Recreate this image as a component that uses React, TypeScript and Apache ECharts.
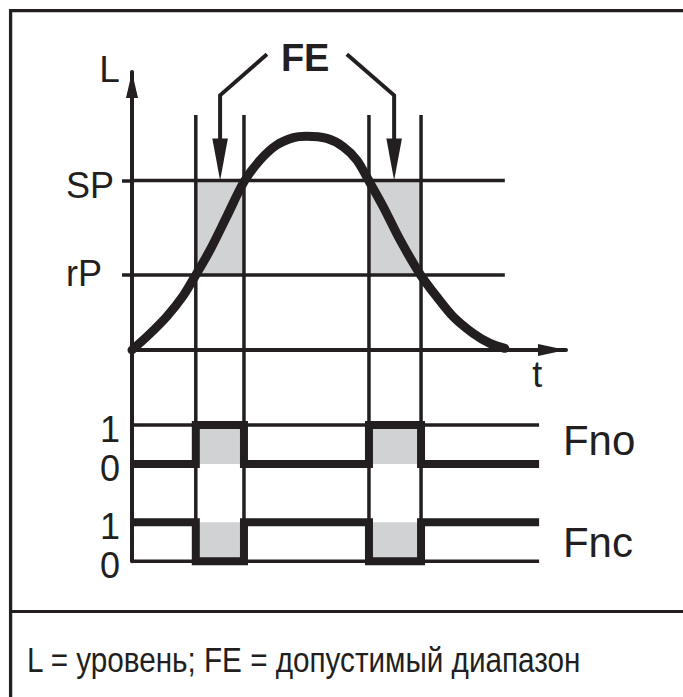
import { useEffect, useRef } from "react";
import * as echarts from "echarts";

const INK = "#231f20";
const FILL = "#d1d2d4";
const FONT = '"Liberation Sans", Arial, Helvetica, sans-serif';

// ---- data (time axis 0..100, level axis units) ----
const SP = 61;
const RP = 27;
const switchTimes = [14.7, 25.8, 54.6, 66.6]; // t1..t4
const levelLineEnd = 85.9;
const signalEnd = 93.8;
const gridLineTop = 84.5;

const curveT = [0, 4.1, 8.0, 11.8, 14.7, 18, 21.8, 25.8, 29.5, 33.3, 37.2, 40.2, 44.9, 48.7, 51.8, 54.7, 57.9, 61.8, 66.5, 70.2, 74.0, 78.6, 82.5, 85.9];
const curveL = [0, 5.8, 12.0, 19.5, 27, 36, 47.9, 60.5, 68.3, 73.7, 76.4, 76.9, 76.1, 73.1, 68.3, 60.5, 51.5, 39.5, 27, 19.2, 12.0, 6.0, 2.4, 0.6];

const fnoStates = [0, 1, 0, 1, 0];
const fncStates = [1, 0, 1, 0, 1];

const yTickLabels = ["SP", "rP", "1", "0", "1", "0"];
const annotationTexts = ["L", "t", "FE", "Fno", "Fnc"];
const bottomNote = "L = уровень; FE = допустимый диапазон";

// ---- layout (level-axis units / time units) ----
const FNO_BASE = -41;
const FNC_BASE = -76;
const SIG_H = 14;
const annotationAnchors = [
  [-5.2, 100.9],
  [93.4, -8.8],
  [39.9, 104.9],
  [99.3, -32.6],
  [99.3, -69.1],
];
const annotationStyles = [
  { fontSize: 37, fontWeight: "normal", align: "center" },
  { fontSize: 36, fontWeight: "normal", align: "center" },
  { fontSize: 38, fontWeight: "bold", align: "center" },
  { fontSize: 42, fontWeight: "normal", align: "left" },
  { fontSize: 42, fontWeight: "normal", align: "left" },
];
// FE arrows: start, bend, tip
const feArrows = [
  [31.1, 106.4, 20.3, 91.6, 20.3, 61],
  [49.5, 106.4, 60.4, 91.6, 60.4, 61],
];

function stepData(states: number[], base: number) {
  const b = [0, ...switchTimes, signalEnd];
  const pts: number[][] = [];
  for (let i = 0; i < states.length; i++) {
    pts.push([b[i], base + states[i] * SIG_H]);
    pts.push([b[i + 1], base + states[i] * SIG_H]);
  }
  return pts;
}

function lineSeries(data: number[][], width: number, z: number, extra: any = {}) {
  return {
    type: "line",
    data,
    symbol: "none",
    silent: true,
    clip: false,
    z,
    lineStyle: { color: INK, width, cap: "butt", join: "miter" },
    ...extra,
  };
}

export default function App() {
  const ref = useRef<HTMLDivElement>(null);

  useEffect(() => {
    if (!ref.current) return;
    const chart = echarts.init(ref.current, undefined, { renderer: "svg" });

    const yLabelValues = [SP, RP, FNO_BASE + SIG_H, FNO_BASE, FNC_BASE + SIG_H, FNC_BASE];
    const yLabelKeys = ["sp", "rp", "d", "d", "d", "d"];

    const [t1, t2, t3, t4] = switchTimes;
    const fills = [
      [t1, t2, RP, SP],
      [t3, t4, RP, SP],
      [t1, t2, FNO_BASE, FNO_BASE + SIG_H],
      [t3, t4, FNO_BASE, FNO_BASE + SIG_H],
      [t1, t2, FNC_BASE, FNC_BASE + SIG_H],
      [t3, t4, FNC_BASE, FNC_BASE + SIG_H],
    ];

    let noteScale = 0.9;
    try {
      const ctx = document.createElement("canvas").getContext("2d");
      if (ctx) {
        ctx.font = '35px "Liberation Sans"';
        const w = ctx.measureText(bottomNote).width;
        if (w > 0) noteScale = 555 / w;
      }
    } catch (e) {}

    const series: any[] = [];

    series.push({
      type: "custom",
      silent: true,
      z: 1,
      encode: { x: [0, 1], y: [2, 3] },
      data: fills,
      renderItem: (_p: any, api: any) => {
        const a = api.coord([api.value(0), api.value(3)]);
        const b = api.coord([api.value(1), api.value(2)]);
        return {
          type: "rect",
          shape: { x: a[0], y: a[1], width: b[0] - a[0], height: b[1] - a[1] },
          style: { fill: FILL },
        };
      },
    });

    series.push(lineSeries([[0, SP], [levelLineEnd, SP]], 3.5, 2));
    series.push(lineSeries([[0, RP], [levelLineEnd, RP]], 3.5, 2));
    series.push(lineSeries([[0, FNO_BASE + SIG_H], [signalEnd, FNO_BASE + SIG_H]], 3.5, 2));
    series.push(lineSeries([[0, FNC_BASE], [signalEnd, FNC_BASE]], 3.5, 2));
    switchTimes.forEach((t) => {
      series.push(lineSeries([[t, gridLineTop], [t, FNC_BASE]], 3.5, 2));
    });

    series.push(lineSeries(stepData(fnoStates, FNO_BASE), 8, 3));
    series.push(lineSeries(stepData(fncStates, FNC_BASE), 8, 3));

    series.push({
      type: "line",
      data: curveT.map((t, i) => [t, curveL[i]]),
      symbol: "none",
      silent: true,
      clip: false,
      z: 4,
      smooth: 0.3,
      lineStyle: { color: INK, width: 9, cap: "round", join: "round" },
    });

    series.push({
      type: "custom",
      silent: true,
      z: 5,
      encode: { x: [0, 2, 4], y: [1, 3, 5] },
      data: feArrows,
      renderItem: (_p: any, api: any) => {
        const s = api.coord([api.value(0), api.value(1)]);
        const m = api.coord([api.value(2), api.value(3)]);
        const tip = api.coord([api.value(4), api.value(5)]);
        const headLen = 42;
        const headHalf = 7.8;
        return {
          type: "group",
          children: [
            {
              type: "polyline",
              shape: { points: [s, m, [tip[0], tip[1] - headLen + 2]] },
              style: { stroke: INK, lineWidth: 4, fill: "none", lineJoin: "miter" },
            },
            {
              type: "polygon",
              shape: {
                points: [
                  [tip[0] - headHalf, tip[1] - headLen],
                  [tip[0] + headHalf, tip[1] - headLen],
                  [tip[0], tip[1]],
                ],
              },
              style: { fill: INK },
            },
          ],
        };
      },
    });

    series.push({
      type: "custom",
      silent: true,
      z: 6,
      encode: { x: 0, y: 1 },
      data: annotationAnchors,
      renderItem: (params: any, api: any) => {
        const i = params.dataIndex;
        const p = api.coord([api.value(0), api.value(1)]);
        const st = annotationStyles[i];
        return {
          type: "text",
          x: p[0],
          y: p[1],
          style: {
            text: annotationTexts[i],
            fontSize: st.fontSize,
            fontWeight: st.fontWeight,
            fontFamily: FONT,
            fill: INK,
            align: st.align,
            verticalAlign: "middle",
          },
        };
      },
    });

    chart.setOption({
      animation: false,
      backgroundColor: "#ffffff",
      grid: { left: 132, right: 117, top: 72, bottom: 697 - (72 + 176 * 2.78) },
      xAxis: {
        type: "value",
        min: 0,
        max: 100,
        splitLine: { show: false },
        axisTick: { show: false },
        axisLabel: { show: false },
        axisLine: {
          show: true,
          onZero: true,
          symbol: ["none", "triangle"],
          symbolSize: [12, 28],
          symbolOffset: [0, -14],
          lineStyle: { color: INK, width: 4 },
        },
      },
      yAxis: {
        type: "value",
        min: FNC_BASE,
        max: 100,
        splitLine: { show: false },
        axisLine: {
          show: true,
          symbol: ["none", "triangle"],
          symbolSize: [12, 26],
          symbolOffset: [0, -13],
          lineStyle: { color: INK, width: 4 },
        },
        axisTick: {
          show: true,
          customValues: [SP, RP],
          length: 10,
          lineStyle: { color: INK, width: 3.5 },
        },
        axisLabel: {
          show: true,
          customValues: yLabelValues,
          margin: 12,
          color: INK,
          fontFamily: FONT,
          fontSize: 36,
          formatter: (v: number) => {
            let idx = 0;
            let best = Infinity;
            yLabelValues.forEach((y, i) => {
              const d = Math.abs(y - v);
              if (d < best) {
                best = d;
                idx = i;
              }
            });
            return "{" + yLabelKeys[idx] + "|" + yTickLabels[idx] + "}";
          },
          rich: {
            sp: { width: 54, align: "left", fontSize: 36, fontFamily: FONT, color: INK, padding: [10, 0, 0, 0] },
            rp: { width: 54, align: "left", fontSize: 36, fontFamily: FONT, color: INK, padding: [0, 0, 3, 0] },
            d: { fontSize: 36, fontFamily: FONT, color: INK, padding: [9, 0, 0, 0] },
          },
        },
      },
      graphic: [
        {
          type: "line",
          silent: true,
          shape: { x1: 9, y1: 10.6, x2: 700, y2: 10.6 },
          style: { stroke: INK, lineWidth: 3.3 },
        },
        {
          type: "line",
          silent: true,
          shape: { x1: 10.6, y1: 9, x2: 10.6, y2: 720 },
          style: { stroke: INK, lineWidth: 3.3 },
        },
        {
          type: "line",
          silent: true,
          shape: { x1: 10, y1: 611.4, x2: 700, y2: 611.4 },
          style: { stroke: INK, lineWidth: 3 },
        },
        {
          type: "text",
          silent: true,
          x: 27,
          y: 660.5,
          scaleX: noteScale,
          style: {
            text: bottomNote,
            fontSize: 35,
            fontFamily: FONT,
            fill: INK,
            align: "left",
            verticalAlign: "middle",
          },
        },
      ],
      series,
    });

    return () => chart.dispose();
  }, []);

  return (
    <div
      ref={ref}
      style={{ position: "absolute", left: 0, top: 0, width: 683, height: 697, background: "#fff" }}
    />
  );
}
